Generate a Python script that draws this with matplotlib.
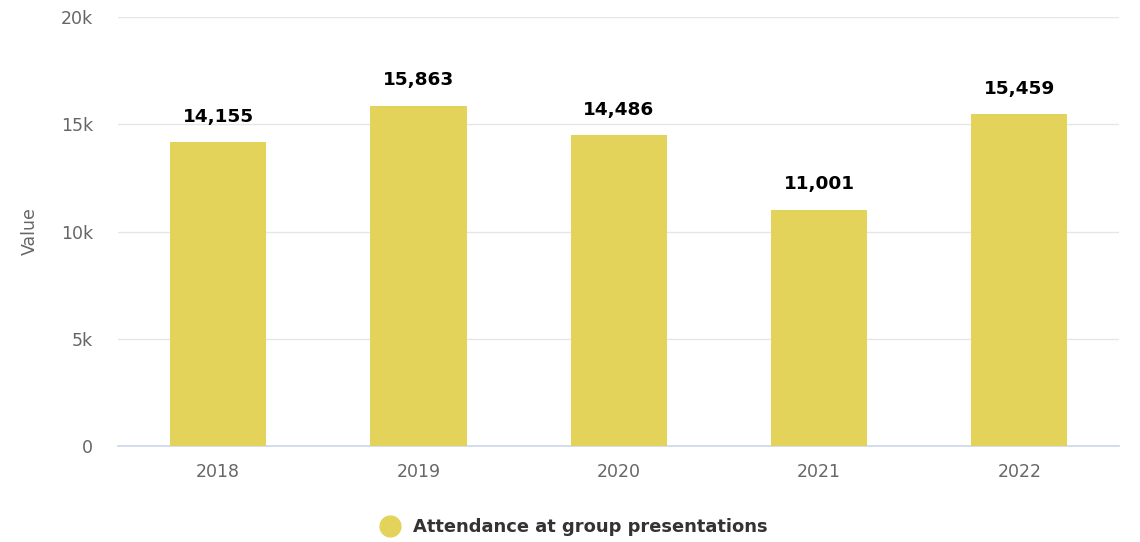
"""Attendance at group presentations, 2018-2022."""

import matplotlib.pyplot as plt
from matplotlib.lines import Line2D
from matplotlib.ticker import FuncFormatter

years = ["2018", "2019", "2020", "2021", "2022"]
attendance = [14155, 15863, 14486, 11001, 15459]
y_ticks = [0, 5000, 10000, 15000, 20000]

BAR_COLOR = "#e4d35a"
TEXT_GRAY = "#666666"

plt.rcParams["font.family"] = ["DejaVu Sans"]

fig = plt.figure(figsize=(11.4, 5.42), dpi=100)
ax = fig.add_axes([0.1035, 0.177, 0.8785, 0.7916])

x = range(len(years))
ax.bar(x, attendance, width=0.48, color=BAR_COLOR, zorder=3)

for xi, val in zip(x, attendance):
    ax.annotate(f"{val:,}", (xi, val), xytext=(0, 12), textcoords="offset points",
                ha="center", va="bottom", fontsize=13.3, fontweight="bold", color="#000000")

ax.set_xlim(-0.5, len(years) - 0.5)
ax.set_ylim(0, 20000)
ax.set_xticks(list(x))
ax.set_xticklabels(years)
ax.set_yticks(y_ticks)
ax.yaxis.set_major_formatter(FuncFormatter(lambda v, _: "0" if v == 0 else f"{int(v / 1000)}k"))

ax.grid(axis="y", color="#e6e6e6", linewidth=1, zorder=0)
for side in ["top", "right", "left"]:
    ax.spines[side].set_visible(False)
ax.spines["bottom"].set_color("#ccd6eb")
ax.spines["bottom"].set_linewidth(1.2)
ax.tick_params(axis="both", length=0, labelsize=12.5, labelcolor=TEXT_GRAY)
ax.tick_params(axis="x", pad=12)
ax.tick_params(axis="y", pad=18)

ax.set_ylabel("Value", fontsize=12.5, color=TEXT_GRAY, labelpad=16)

handle = Line2D([], [], marker="o", linestyle="", markersize=15,
                markerfacecolor=BAR_COLOR, markeredgecolor=BAR_COLOR)
fig.legend([handle], ["Attendance at group presentations"], loc="center",
           bbox_to_anchor=(0.5, 0.028), frameon=False, handletextpad=0.3,
           prop={"weight": "bold", "size": 12.9}, labelcolor="#333333")

fig.savefig("out.png", dpi=100)
